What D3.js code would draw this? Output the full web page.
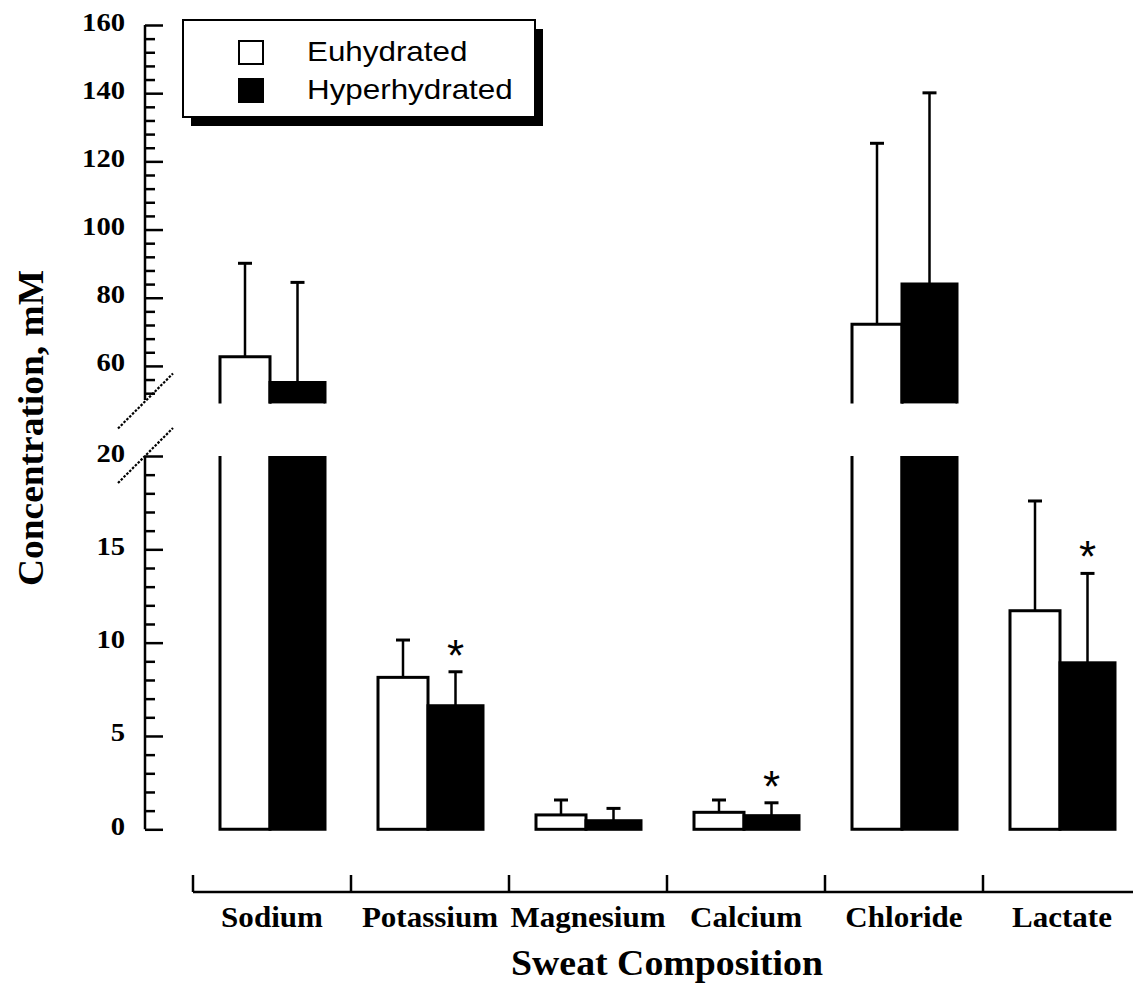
<!DOCTYPE html>
<html>
<head>
<meta charset="utf-8">
<script src="https://cdn.jsdelivr.net/npm/d3@7/dist/d3.min.js"></script>
<style>
  html, body { margin: 0; padding: 0; background: #fff; }
  svg { display: block; }
</style>
</head>
<body>
<svg id="chart" width="1133" height="988"></svg>
<script>
// ---------------- data ----------------
const categories = ["Sodium", "Potassium", "Magnesium", "Calcium", "Chloride", "Lactate"];
const seriesNames = ["Euhydrated", "Hyperhydrated"];
const euMean = [62.7, 8.14, 0.77, 0.91, 72.2, 11.71];
const euSD   = [27.4, 2.00, 0.80, 0.66, 53.1, 5.88];
const hyMean = [55.1, 6.62, 0.46, 0.73, 84.0, 8.92];
const hySD   = [29.4, 1.82, 0.66, 0.69, 56.1, 4.79];
const hySignificant = [false, true, false, true, false, true];
const upperTickLabels = [60, 80, 100, 120, 140, 160];
const lowerTickLabels = [0, 5, 10, 15, 20];
const xTitle = "Sweat Composition";
const yTitle = "Concentration, mM";

// ---------------- layout ----------------
const svg = d3.select("#chart");
const axisX = 145;
const serif = "'Liberation Serif', 'Times New Roman', Times, serif";
const sans = "'Liberation Sans', Arial, Helvetica, sans-serif";

const yLow = d3.scaleLinear().domain([0, 20]).range([829.3, 456]);
const yHigh = d3.scaleLinear().domain([50, 160]).range([400, 25]);
const breakLow = 20, breakHigh = 49;
const x = d3.scaleBand().domain(categories).range([193, 1141]).paddingInner(0).paddingOuter(0);

function stretch(sel, f) {
  sel.each(function () {
    const l = this.getComputedTextLength();
    if (l > 0) {
      this.setAttribute("textLength", l * f);
      this.setAttribute("lengthAdjust", "spacingAndGlyphs");
    }
  });
}

// ---------------- y axes ----------------
function yAxisGroup(scale, majors, minors, lineTop, lineBottom) {
  const g = svg.append("g").attr("transform", `translate(${axisX},0)`);
  const minorAxis = d3.axisLeft(scale).tickValues(minors).tickSizeInner(-10).tickSizeOuter(0).tickFormat("");
  const gm = g.append("g").attr("class", "minor").call(minorAxis);
  gm.select(".domain").remove();
  const majorAxis = d3.axisLeft(scale).tickValues(majors).tickSizeInner(-18).tickSizeOuter(0).tickPadding(20);
  const gM = g.append("g").attr("class", "major").call(majorAxis);
  gM.select(".domain").remove();
  g.selectAll(".tick line").attr("stroke", "#000").attr("stroke-width", 2.5);
  gM.selectAll(".tick text")
    .attr("font-family", serif).attr("font-weight", "bold").attr("font-size", 26)
    .attr("fill", "#000").attr("dy", null).attr("y", 5);
  g.append("line").attr("x1", 0).attr("x2", 0)
    .attr("y1", lineTop).attr("y2", lineBottom)
    .attr("stroke", "#000").attr("stroke-width", 2.5);
  stretch(gM.selectAll(".tick text"), 1.1);
}
yAxisGroup(yHigh, upperTickLabels,
  d3.range(52, 160, 4).filter(v => !upperTickLabels.includes(v)),
  yHigh(160), yHigh(50));
yAxisGroup(yLow, lowerTickLabels,
  d3.range(0, 21, 1).filter(v => !lowerTickLabels.includes(v)),
  yLow(20), yLow(0));

// break marks
[yHigh(50) + 1.5, yLow(20)].forEach(cy => {
  svg.append("line")
    .attr("x1", axisX - 27).attr("y1", cy + 27)
    .attr("x2", axisX + 28).attr("y2", cy - 28)
    .attr("stroke", "#000").attr("stroke-width", 2.2)
    .attr("stroke-dasharray", "2.5,1.5");
});

// ---------------- bars ----------------
const barsG = svg.append("g");
const wW = 50, wB = 55;
function drawBar(i, mean, sd, isWhite, sig) {
  const c = categories[i];
  const split = x(c) + x.bandwidth() / 2 - 2;
  const x0 = isWhite ? split - wW : split;
  const x1 = isWhite ? split : split + wB;
  const fill = isWhite ? "#fff" : "#000";
  const cx = (x0 + x1) / 2;
  if (mean <= breakLow) {
    barsG.append("rect")
      .attr("x", x0).attr("y", yLow(mean))
      .attr("width", x1 - x0).attr("height", yLow(0) - yLow(mean))
      .attr("fill", fill).attr("stroke", "#000").attr("stroke-width", 3);
  } else {
    if (!isWhite) {
      barsG.append("rect").attr("x", x0).attr("y", yLow(breakLow))
        .attr("width", x1 - x0).attr("height", yLow(0) - yLow(breakLow)).attr("fill", "#000");
    }
    barsG.append("path")
      .attr("d", `M${x0},${yLow(breakLow)}V${yLow(0)}H${x1}V${yLow(breakLow)}`)
      .attr("fill", "none").attr("stroke", "#000").attr("stroke-width", 3);
    if (!isWhite) {
      barsG.append("rect").attr("x", x0).attr("y", yHigh(mean))
        .attr("width", x1 - x0).attr("height", yHigh(breakHigh) - yHigh(mean)).attr("fill", "#000");
    }
    barsG.append("path")
      .attr("d", `M${x0},${yHigh(breakHigh)}V${yHigh(mean)}H${x1}V${yHigh(breakHigh)}`)
      .attr("fill", "none").attr("stroke", "#000").attr("stroke-width", 3);
  }
  const sc = mean <= breakLow ? yLow : yHigh;
  const yTop = sc(mean + sd);
  barsG.append("line").attr("x1", cx).attr("x2", cx)
    .attr("y1", sc(mean)).attr("y2", yTop)
    .attr("stroke", "#000").attr("stroke-width", 2.5);
  barsG.append("line").attr("x1", cx - 7).attr("x2", cx + 7)
    .attr("y1", yTop).attr("y2", yTop)
    .attr("stroke", "#000").attr("stroke-width", 3);
  if (sig) {
    barsG.append("text").attr("x", cx).attr("y", yTop - 1)
      .attr("text-anchor", "middle")
      .attr("font-family", sans).attr("font-size", 44).attr("fill", "#000")
      .text("*");
  }
}
categories.forEach((c, i) => {
  drawBar(i, euMean[i], euSD[i], true, false);
  drawBar(i, hyMean[i], hySD[i], false, hySignificant[i]);
});

// ---------------- x axis ----------------
const xAxisY = 892;
svg.append("line").attr("x1", x.range()[0]).attr("x2", 1133)
  .attr("y1", xAxisY).attr("y2", xAxisY)
  .attr("stroke", "#000").attr("stroke-width", 2.5);
svg.append("g").selectAll("line").data(categories).join("line")
  .attr("x1", d => x(d)).attr("x2", d => x(d))
  .attr("y1", xAxisY).attr("y2", xAxisY - 17)
  .attr("stroke", "#000").attr("stroke-width", 2.5);
const catLabels = svg.append("g").selectAll("text").data(categories).join("text")
  .attr("x", d => x(d) + x.bandwidth() / 2).attr("y", 927)
  .attr("text-anchor", "middle")
  .attr("font-family", serif).attr("font-weight", "bold").attr("font-size", 29)
  .attr("fill", "#000").text(d => d);
stretch(catLabels, 1.07);

const xt = svg.append("text").attr("x", (x.range()[0] + x.range()[1]) / 2).attr("y", 975)
  .attr("text-anchor", "middle")
  .attr("font-family", serif).attr("font-weight", "bold").attr("font-size", 36)
  .attr("fill", "#000").text(xTitle);
stretch(xt, 1.05);

const yt = svg.append("text")
  .attr("transform", "translate(43,428) rotate(-90)")
  .attr("text-anchor", "middle")
  .attr("font-family", serif).attr("font-weight", "bold").attr("font-size", 36)
  .attr("fill", "#000").text(yTitle);
stretch(yt, 1.04);

// ---------------- legend ----------------
const lg = svg.append("g");
lg.append("rect").attr("x", 191).attr("y", 29).attr("width", 352).attr("height", 97).attr("fill", "#000");
lg.append("rect").attr("x", 183).attr("y", 20).attr("width", 352).attr("height", 97)
  .attr("fill", "#fff").attr("stroke", "#000").attr("stroke-width", 2);
const legendRows = lg.selectAll("g.row").data(seriesNames).join("g").attr("class", "row")
  .attr("transform", (d, i) => `translate(0,${i * 38})`);
legendRows.append("rect").attr("x", 239).attr("y", 41).attr("width", 24).attr("height", 23)
  .attr("fill", (d, i) => i === 0 ? "#fff" : "#000").attr("stroke", "#000").attr("stroke-width", 2);
const lt = legendRows.append("text").attr("x", 307).attr("y", 61)
  .attr("font-family", sans).attr("font-size", 28).attr("fill", "#000").text(d => d);
stretch(lt, 1.12);
</script>
</body>
</html>
